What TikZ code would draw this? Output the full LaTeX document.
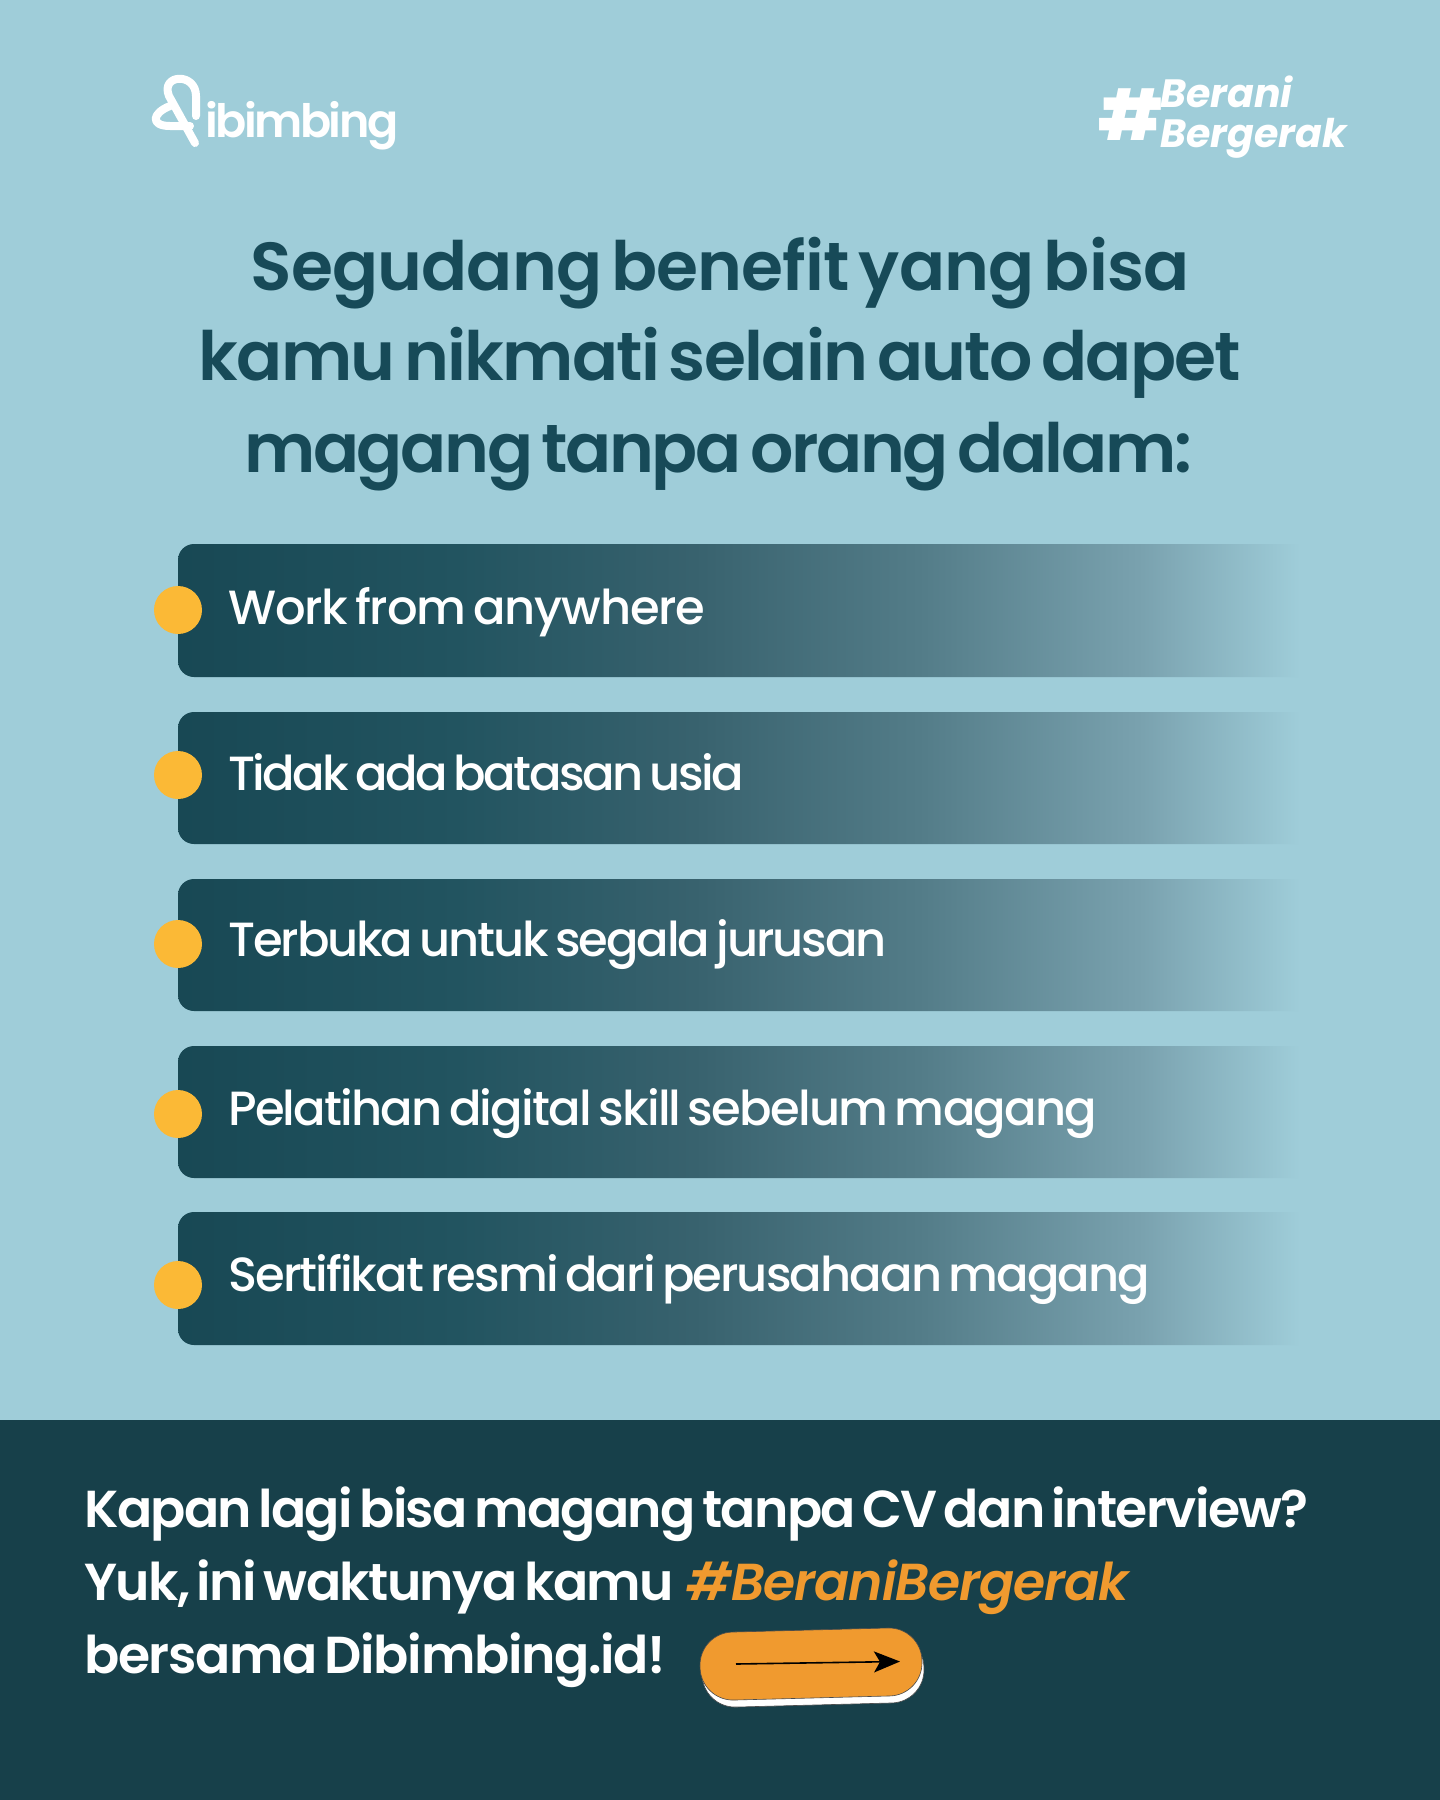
\documentclass[tikz,border=0pt]{standalone}
\usepackage{fontspec}
\setmainfont{Poppins}
\newfontfamily\fttl[LetterSpace=-2.5,WordSpace=0.6]{Poppins SemiBold}
\newfontfamily\ffoot[LetterSpace=-2.5,WordSpace=0.6,ItalicFont={Poppins SemiBold Italic}]{Poppins SemiBold}
\newfontfamily\fitem[LetterSpace=-3.3,WordSpace=0.6]{Poppins Medium}
\newfontfamily\flogo[LetterSpace=-5.4]{Poppins SemiBold}
\newfontfamily\fsign{Poppins ExtraBold}
\newfontfamily\fhash{Poppins Bold Italic}
\usetikzlibrary{arrows.meta}
\definecolor{bg}{HTML}{9FCDD9}
\definecolor{band}{HTML}{17404A}
\definecolor{ink}{HTML}{174A58}
\definecolor{bar}{HTML}{184854}
\definecolor{barb}{HTML}{225460}
\definecolor{barc}{HTML}{38626E}
\definecolor{bard}{HTML}{537C88}
\definecolor{bare}{HTML}{7AA2AF}
\definecolor{dot}{HTML}{FBB936}
\definecolor{org}{HTML}{F09A2F}
\pgfdeclarehorizontalshading{barfade}{100bp}{color(0bp)=(bar); color(25bp)=(bar); color(37.5bp)=(barb); color(48bp)=(barc); color(58bp)=(bard); color(68bp)=(bare); color(75bp)=(bg); color(100bp)=(bg)}
\newcommand{\ls}[1]{\addfontfeature{LetterSpace=#1}}
\tikzset{
  x=1pt,y=-1pt,
  lbl/.style={anchor=base west,inner sep=0pt,text=white},
  ttl/.style={anchor=base,inner sep=0pt,text=ink,font=\fttl\fontsize{68}{68}\selectfont},
  itemtxt/.style={lbl,font=\fitem\fontsize{48}{48}\selectfont},
  foot/.style={lbl,font=\ffoot\fontsize{52}{52}\selectfont},
  hash/.style={lbl,font=\fhash\fontsize{39.5}{39.5}\selectfont},
  logo/.style={draw=white,line width=8pt,line cap=round,line join=round},
  btnbox/.style={rotate=1.5,draw=black!70,line width=.6pt,rounded corners=33pt,minimum width=222pt,minimum height=68pt,inner sep=0pt},
}
\newcommand{\barrow}[2]{\shade[shading=barfade] (178+16,#1) -- (1300,#1) -- (1300,#2) -- (178+16,#2) arc[start angle=270,end angle=180,x radius=16pt,y radius=16pt] -- (178,#1+16) arc[start angle=180,end angle=90,x radius=16pt,y radius=16pt] -- cycle;}
\begin{document}
\begin{tikzpicture}
\useasboundingbox (0,0) rectangle (1440,1800);
\fill[bg] (0,0) rectangle (1440,1800);
\fill[band] (0,1420) rectangle (1440,1800);
% logo
\draw[logo] (195,143) -- (169,96) .. controls (160,74) and (196,72) .. (196,96) -- (196,116);
\draw[logo] (170,106) .. controls (152,113) and (150,126) .. (170,126) -- (190,126);
\node[lbl,font=\flogo\fontsize{46}{46}\selectfont] (logotxt) at (205,137) {ibimbing};
% tag
\node[lbl,font=\fsign\fontsize{70}{70}\selectfont] (hashsign) at (1098,140) {\#};
\node[hash] (tag1) at (1160,107) {Berani};
\node[hash] (tag2) at (1160,147) {Bergerak};
% title
\node[ttl] (t1) at (720,290) {\ls{-1.3}Segudang benefit yang bisa};
\node[ttl] (t2) at (720,380) {kamu nikmati selain auto dapet};
\node[ttl] (t3) at (718,472) {\ls{-3.4}magang tanpa orang dalam:};
% bars
\barrow{544}{677}
\barrow{712}{844}
\barrow{879}{1011}
\barrow{1046}{1178}
\barrow{1212}{1345}
\foreach \n/\y in {a/610,b/775,c/944,d/1114,e/1285}{
  \node[circle,fill=dot,minimum size=48pt,inner sep=0pt] (dot\n) at (178,\y) {};
}
\node[itemtxt] (i1) at (228,624) {\ls{-2.4}Work from anywhere};
\node[itemtxt] (i2) at (228,790) {\ls{-5.3}Tidak ada batasan usia};
\node[itemtxt] (i3) at (228,956) {\ls{-4.4}Terbuka untuk segala jurusan};
\node[itemtxt] (i4) at (228,1125) {\ls{-3.7}Pelatihan digital skill sebelum magang};
\node[itemtxt] (i5) at (228,1291) {\ls{-4}Sertifikat resmi dari perusahaan magang};
% footer
\node[foot] (f1) at (84,1527) {\ls{-3.2}Kapan lagi bisa magang tanpa CV dan interview?};
\node[foot] (f2) at (84,1600) {\ls{-3}Yuk, ini waktunya kamu};
\node[foot,text=org] (f2b) at (686,1600) {\itshape\ls{-2}\#BeraniBergerak};
\node[foot] (f3) at (84,1673) {bersama Dibimbing.id!};
% button
\node[btnbox,fill=white] (btnsh) at (813,1671) {};
\node[btnbox,fill=org] (btn) at (811,1664) {};
\coordinate (as) at (736,1664);
\coordinate (ae) at (900,1661.5);
\draw[black,line width=1.6pt,-{Stealth[length=26pt,width=21pt,inset=6pt]}] (as) -- (ae);
\end{tikzpicture}
\end{document}
